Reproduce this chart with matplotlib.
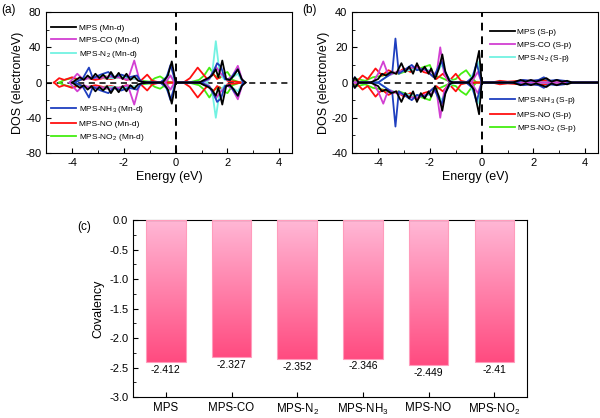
import matplotlib
matplotlib.use('Agg')
import matplotlib.pyplot as plt
import numpy as np
from matplotlib.colors import LinearSegmentedColormap
from matplotlib.ticker import MultipleLocator, FormatStrFormatter

plt.rcParams['font.family'] = ['Liberation Sans', 'DejaVu Sans']
plt.rcParams['mathtext.default'] = 'regular'
plt.rcParams['axes.unicode_minus'] = False

# ---- (a) Mn-d PDOS, spin up values (spin down is the mirror unless given) ----
A_MPS_E = [-4.0, -3.85, -3.7, -3.55, -3.4, -3.25, -3.1, -2.95, -2.8, -2.65, -2.5, -2.35, -2.2, -2.05, -1.9,
           -1.75, -1.6, -1.45, -1.3, -1.1, -0.5, -0.3, -0.15, 0.0, 0.9, 1.1, 1.25, 1.4, 1.55, 1.65, 1.8,
           1.95, 2.1, 2.25, 2.4, 2.55, 2.7]
A_MPS_UP = [0, 3, 6, 3, 8, 4, 10, 5, 9, 4, 12, 5, 11, 4, 10, 3, 7, 2, 1, 0, 0, 8, 24, 0, 0, 3, 5, 8, 15, 6, 25,
            4, 3, 8, 15, 4, 0]
A_CO_E = [-4.1, -3.8, -3.55, -3.3, -3.0, -2.6, -2.2, -1.85, -1.6, -1.4, -1.2, -0.4, -0.2, -0.05, 1.0, 1.3,
          1.55, 1.75, 2.0, 2.2, 2.4, 2.6]
A_CO_UP = [0, 10, 3, 6, 5, 7, 6, 3, 25, 3, 0, 0, 8, 0, 0, 4, 18, 10, 3, 8, 19, 0]
A_N2_E = [-4.0, -3.6, -3.0, -2.5, -2.0, -1.5, -1.2, -0.5, -0.3, -0.1, 0.0, 1.2, 1.4, 1.55, 1.7, 1.9, 2.2,
          2.4, 2.6]
A_N2_UP = [0, 4, 6, 5, 6, 4, 0, 0, 10, 5, 0, 0, 8, 47, 10, 3, 6, 10, 0]
A_N2_DN = [0, -4, -6, -5, -6, -4, 0, 0, -10, -5, 0, 0, -8, -40, -10, -3, -6, -10, 0]
A_NH3_E = [-3.9, -3.6, -3.35, -3.2, -2.9, -2.6, -2.4, -2.1, -1.8, -1.5, -1.3, -0.6, -0.35, -0.2, -0.05, 0.0,
           1.0, 1.3, 1.5, 1.6, 1.75, 1.9, 2.1, 2.25, 2.4, 2.6]
A_NH3_UP = [0, 4, 17, 5, 9, 12, 6, 9, 6, 8, 0, 0, 6, 20, 5, 0, 0, 5, 15, 22, 18, 4, 3, 10, 15, 0]
A_NO_E = [-4.7, -4.5, -4.3, -4.0, -3.7, -3.4, -3.1, -2.8, -2.5, -2.2, -1.9, -1.6, -1.35, -1.1, -0.9, -0.6,
          0.3, 0.55, 0.85, 1.1, 1.25, 1.45, 1.6, 1.8, 2.0, 2.3, 2.6]
A_NO_UP = [0, 5, 3, 6, 3, 5, 3, 5, 4, 6, 3, 5, 2, 9, 2, 0, 0, 5, 17, 8, 3, 10, 4, 8, 2, 1, 0]
A_NO2_E = [-4.5, -4.3, -4.0, -3.7, -3.4, -3.1, -2.8, -2.5, -2.2, -1.9, -1.6, -1.3, -1.0, -0.8, -0.6, -0.4,
           -0.2, 0.5, 0.9, 1.1, 1.3, 1.5, 1.7, 1.85, 2.0, 2.2, 2.5]
A_NO2_UP = [0, 3, 5, 3, 6, 4, 8, 5, 7, 4, 5, 2, 1, 5, 7, 3, 0, 0, 3, 8, 17, 8, 5, 10, 12, 3, 0]

# ---- (b) S-p PDOS ----
B_MPS_E = [-5.0, -4.9, -4.75, -4.3, -4.0, -3.85, -3.7, -3.5, -3.3, -3.1, -2.95, -2.8, -2.65, -2.5, -2.35,
           -2.2, -2.05, -1.95, -1.8, -1.65, -1.52, -1.4, -1.25, -1.1, -0.5, -0.3, -0.1, 0.0, 1.2, 1.5, 1.7,
           1.9, 2.1, 2.3, 2.5, 2.7, 2.9, 3.1, 3.3, 3.5, 4.5]
B_MPS_UP = [0, 3, 0, 0, 2, 5, 4, 6, 5, 11, 6, 9, 5, 11, 6, 9, 5, 8, 2, 8, 16, 6, 1, 0, 0, 4, 18, 0, 0, 1.5,
            0.5, 1.5, 0.5, 1.5, 2.5, 0.5, 1.5, 0.5, 1, 0, 0]
B_CO_E = [-5.0, -4.2, -4.0, -3.8, -3.6, -3.3, -3.0, -2.6, -2.2, -1.9, -1.75, -1.6, -1.45, -1.3, -1.1, -0.4,
          -0.15, 0.0, 4.5]
B_CO_UP = [0, 0, 5, 12, 4, 6, 7, 9, 7, 6, 4, 20, 5, 1, 0, 0, 6, 0, 0]
B_N2_E = [-5.0, -4.0, -3.6, -3.2, -2.8, -2.4, -2.0, -1.8, -1.55, -1.3, -1.1, -0.5, -0.3, -0.15, 0.0, 4.5]
B_N2_UP = [0, 0, 4, 6, 7, 8, 7, 4, 10, 3, 0, 0, 6, 12, 0, 0]
B_NH3_E = [-5.0, -4.9, -4.75, -4.0, -3.6, -3.45, -3.33, -3.2, -3.0, -2.7, -2.5, -2.2, -2.0, -1.85, -1.7,
           -1.55, -1.4, -1.2, -0.6, -0.35, -0.2, -0.05, 0.0, 1.3, 1.6, 1.9, 2.2, 2.4, 2.6, 2.9, 3.2, 3.4, 4.5]
B_NH3_UP = [0, 3, 0, 0, 4, 6, 25, 5, 7, 10, 7, 8, 5, 3, 8, 12, 6, 0, 0, 3, 11, 3, 0, 0, 1.5, 1, 1.5, 3, 1,
            1.5, 1, 0, 0]
B_NO_E = [-5.0, -4.8, -4.6, -4.4, -4.1, -3.85, -3.6, -3.3, -3.0, -2.75, -2.5, -2.25, -2.0, -1.75, -1.5,
          -1.25, -1.0, -0.8, -0.5, 0.4, 0.7, 1.0, 1.5, 2.0, 2.5, 3.0, 3.4, 4.5]
B_NO_UP = [0, 1, 4, 2, 8, 4, 7, 5, 8, 6, 10, 6, 5, 2, 5, 1, 5, 1, 0, 0, 1, 0.5, 1, 1, 1, 0.5, 0, 0]
B_NO2_E = [-5.0, -4.8, -4.5, -4.2, -3.8, -3.5, -3.2, -2.8, -2.4, -2.0, -1.85, -1.6, -1.3, -1.0, -0.8, -0.6,
           -0.4, -0.2, 0.0, 4.5]
B_NO2_UP = [0, 2, 1, 3, 4, 6, 5, 7, 8, 10, 4, 3, 1, 2, 5, 7, 3, 0, 0, 0]

# ---- (c) covalency ----
SYSTEMS = ['MPS', 'MPS-CO', 'MPS-N$_2$', 'MPS-NH$_3$', 'MPS-NO', 'MPS-NO$_2$']
COVALENCY = [-2.412, -2.327, -2.352, -2.346, -2.449, -2.41]

COLORS = ['black', '#d23fd2', '#72f2e2', '#1f3fbf', '#ff1010', '#44ee11']


def dos_panel(ax, curves, orbital, ylim, ymaj, ymin, pos1, pos2):
    ax.axhline(0, color='k', ls='--', lw=1.1, dashes=(4, 3), zorder=0.5)
    ax.axvline(0, color='k', ls='--', lw=1.4, dashes=(4, 3), zorder=20)
    handles = []
    for i, (e, up, dn) in enumerate(curves):
        e = np.array(e)
        up = np.array(up, dtype=float)
        dn = -up if dn is None else np.array(dn, dtype=float)
        z = 10 - i if i != 3 else 9.5
        h, = ax.plot(e, up, color=COLORS[i], lw=1.3, zorder=z)
        ax.plot(e, dn, color=COLORS[i], lw=1.3, zorder=z)
        handles.append(h)
    labels = [f'{s} ({orbital})' for s in SYSTEMS]
    kw = dict(frameon=False, fontsize=6, handlelength=3.0, handletextpad=0.3,
              labelspacing=0.55, borderpad=0, borderaxespad=0, loc='upper left')
    leg1 = ax.legend(handles[:3], labels[:3], bbox_to_anchor=pos1, **kw)
    ax.add_artist(leg1)
    ax.legend(handles[3:], labels[3:], bbox_to_anchor=pos2, **kw)
    ax.set_xlim(-5, 4.5)
    ax.set_ylim(*ylim)
    ax.xaxis.set_major_locator(MultipleLocator(2))
    ax.xaxis.set_minor_locator(MultipleLocator(1))
    ax.yaxis.set_major_locator(MultipleLocator(ymaj))
    ax.yaxis.set_minor_locator(MultipleLocator(ymin))
    ax.tick_params(which='both', direction='in', labelsize=8)
    ax.tick_params(which='major', length=3.5)
    ax.tick_params(which='minor', length=2)
    ax.set_xlabel('Energy (eV)', fontsize=9, labelpad=2)
    ax.set_ylabel('DOS (electron/eV)', fontsize=9, labelpad=1)


fig = plt.figure(figsize=(6.0, 4.18), dpi=100)
ax_a = fig.add_axes([0.077, 0.634, 0.41, 0.337])
ax_b = fig.add_axes([0.587, 0.634, 0.41, 0.337])
ax_c = fig.add_axes([0.2217, 0.050, 0.6567, 0.4234])

dos_panel(ax_a,
          [(A_MPS_E, A_MPS_UP, None), (A_CO_E, A_CO_UP, None), (A_N2_E, A_N2_UP, A_N2_DN),
           (A_NH3_E, A_NH3_UP, None), (A_NO_E, A_NO_UP, None), (A_NO2_E, A_NO2_UP, None)],
          'Mn-d', (-80, 80), 40, 20, (0.02, 0.915), (0.02, 0.345))
dos_panel(ax_b,
          [(B_MPS_E, B_MPS_UP, None), (B_CO_E, B_CO_UP, None), (B_N2_E, B_N2_UP, None),
           (B_NH3_E, B_NH3_UP, None), (B_NO_E, B_NO_UP, None), (B_NO2_E, B_NO2_UP, None)],
          'S-p', (-40, 40), 20, 10, (0.56, 0.885), (0.56, 0.41))

# panel (c): gradient-filled bars
cmap = LinearSegmentedColormap.from_list('pinkgrad', ['#ffb8d6', '#ff4b80'])
grad = np.linspace(0, 1, 256).reshape(-1, 1)
x = np.arange(len(SYSTEMS))
for xi, v in zip(x, COVALENCY):
    ax_c.imshow(grad, extent=(xi - 0.3, xi + 0.3, v, 0), aspect='auto', cmap=cmap,
                origin='upper', zorder=2)
    ax_c.text(xi, v - 0.05, f'{v:g}', ha='center', va='top', fontsize=7.5)
ax_c.bar(x, COVALENCY, width=0.6, facecolor='none', edgecolor='#ff9cbc', lw=0.8, zorder=3)
ax_c.set_xlim(-0.5, 5.5)
ax_c.set_ylim(-3.0, 0.0)
ax_c.set_xticks(x)
ax_c.set_xticklabels(SYSTEMS)
ax_c.yaxis.set_major_locator(MultipleLocator(0.5))
ax_c.yaxis.set_minor_locator(MultipleLocator(0.25))
ax_c.yaxis.set_major_formatter(FormatStrFormatter('%.1f'))
ax_c.tick_params(which='both', direction='in')
ax_c.tick_params(axis='y', labelsize=8)
ax_c.tick_params(axis='x', labelsize=8.3)
ax_c.tick_params(which='major', length=3.5)
ax_c.tick_params(which='minor', length=2)
ax_c.set_ylabel('Covalency', fontsize=9, labelpad=3)

fig.text(0.002, 0.975, '(a)', fontsize=8.5, va='center')
fig.text(0.503, 0.975, '(b)', fontsize=8.5, va='center')
fig.text(0.128, 0.458, '(c)', fontsize=8.5, va='center')

fig.savefig('out.png', dpi=100)
